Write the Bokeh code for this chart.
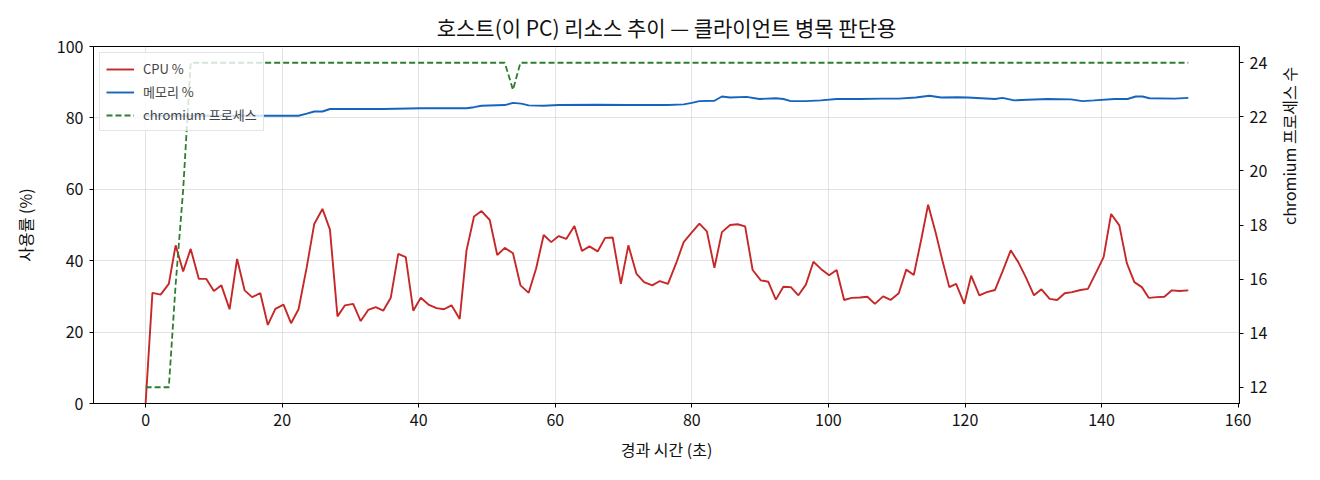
import math
from bokeh.plotting import figure
from bokeh.models import Range1d, LinearAxis
from bokeh.embed import file_html
from bokeh.resources import INLINE

FONT = "Noto Sans CJK KR"

# CPU 사용률 (%) - 경과 시간 (초)
cpu_t = [0.0, 1.0, 2.2, 3.4, 4.4, 5.5, 6.6, 7.8, 8.9, 10.0, 11.1, 12.3, 13.4, 14.5,
         15.6, 16.8, 17.9, 19.0, 20.2, 21.3, 22.4, 23.6, 24.7, 25.9, 27.0, 28.1,
         29.2, 30.4, 31.5, 32.6, 33.7, 34.8, 35.9, 37.0, 38.1, 39.2, 40.3, 41.5,
         42.6, 43.7, 44.8, 46.0, 47.0, 48.1, 49.2, 50.4, 51.5, 52.6, 53.8, 54.9,
         56.1, 57.2, 58.3, 59.4, 60.5, 61.6, 62.8, 63.9, 65.0, 66.2, 67.3, 68.4,
         69.6, 70.7, 71.9, 73.0, 74.2, 75.3, 76.5, 77.7, 78.8, 79.9, 81.1, 82.2,
         83.3, 84.4, 85.6, 86.7, 87.8, 88.9, 90.1, 91.2, 92.3, 93.4, 94.5, 95.6,
         96.7, 97.8, 98.9, 100.1, 101.2, 102.3, 103.4, 104.6, 105.7, 106.8, 108.0,
         109.1, 110.3, 111.4, 112.5, 113.6, 114.6, 115.7, 116.7, 117.7, 118.7,
         119.9, 120.9, 122.1, 123.2, 124.4, 125.5, 126.7, 127.8, 128.9, 130.1,
         131.2, 132.4, 133.5, 134.6, 135.7, 136.9, 138.0, 139.1, 140.3, 141.4,
         142.6, 143.7, 144.8, 145.9, 146.9, 148.1, 149.2, 150.3, 151.4, 152.7]
cpu_pct = [0.0, 31.0, 30.5, 33.5, 44.3, 37.0, 43.3, 34.9, 34.9, 31.5, 33.1, 26.4, 40.5, 31.7,
           29.8, 30.9, 22.0, 26.5, 27.7, 22.5, 26.4, 38.2, 50.3, 54.5, 48.7, 24.4,
           27.5, 27.9, 23.1, 26.2, 27.0, 26.0, 29.6, 41.9, 41.0, 26.0, 29.6, 27.6,
           26.7, 26.4, 27.5, 23.7, 42.9, 52.4, 53.9, 51.4, 41.6, 43.6, 42.1, 33.1,
           31.0, 37.9, 47.2, 45.2, 46.9, 46.1, 49.7, 42.7, 44.0, 42.6, 46.4, 46.5,
           33.5, 44.3, 36.3, 34.0, 33.1, 34.3, 33.5, 39.3, 45.2, 47.7, 50.4, 48.2,
           38.0, 48.0, 50.0, 50.2, 49.6, 37.4, 34.5, 34.1, 29.1, 32.7, 32.6, 30.3,
           33.3, 39.7, 37.7, 35.9, 37.4, 29.0, 29.6, 29.7, 29.9, 27.9, 30.0,
           29.0, 30.9, 37.5, 36.0, 46.0, 55.7, 47.9, 40.0, 32.6, 33.5,
           27.9, 35.8, 30.3, 31.2, 31.8, 37.0, 42.9, 39.6, 35.4, 30.3,
           32.0, 29.3, 29.0, 30.9, 31.2, 31.8, 32.1, 36.3, 41.0, 53.1,
           49.9, 39.3, 34.0, 32.6, 29.6, 29.8, 29.9, 31.7, 31.5, 31.7]

# 메모리 사용률 (%)
mem_t = [0.0, 22.4, 23.6, 24.7, 25.9, 27.0, 34.8, 40.3, 47.0, 48.1, 49.2, 52.6, 53.8,
         55.0, 56.1, 58.3, 60.5, 66.2, 70.7, 76.5, 78.8, 80.0, 81.1, 83.3, 84.4,
         85.6, 88.0, 89.9, 92.3, 93.4, 94.5, 96.7, 98.9, 101.2, 104.6, 107.9, 110.3,
         112.8, 114.8, 116.5, 118.9, 120.4, 124.4, 125.5, 127.2, 129.2, 132.1, 135.5,
         137.2, 138.9, 141.9, 143.8, 145.0, 146.0, 147.0, 150.7, 152.7]
mem_pct = [80.6, 80.6, 81.2, 81.8, 81.8, 82.5, 82.5, 82.7, 82.7, 83.0, 83.4, 83.6, 84.2,
           84.0, 83.5, 83.4, 83.6, 83.7, 83.6, 83.6, 83.8, 84.2, 84.7, 84.8, 86.0,
           85.7, 85.9, 85.3, 85.5, 85.3, 84.7, 84.7, 84.9, 85.3, 85.3, 85.4, 85.4,
           85.7, 86.2, 85.7, 85.8, 85.7, 85.3, 85.6, 84.9, 85.1, 85.3, 85.2,
           84.7, 84.9, 85.3, 85.3, 86.0, 86.0, 85.5, 85.4, 85.6]

# chromium 프로세스 수
proc_t = [0.0, 3.4, 4.4, 5.5, 6.6, 52.6, 53.8, 54.9, 152.7]
proc_count = [12, 12, 15.8, 19.3, 24, 24, 23, 24, 24]

x_ticks = [0, 20, 40, 60, 80, 100, 120, 140, 160]
y_ticks = [0, 20, 40, 60, 80, 100]
proc_ticks = [12, 14, 16, 18, 20, 22, 24]

p = figure(width=1320, height=480, output_backend="svg", toolbar_location=None,
           x_range=Range1d(-7.63, 160.2), y_range=Range1d(0, 100),
           title="호스트(이 PC) 리소스 추이 — 클라이언트 병목 판단용",
           x_axis_label="경과 시간 (초)", y_axis_label="사용률 (%)",
           min_border_left=93, min_border_right=81, min_border_top=46, min_border_bottom=77)
p.extra_y_ranges = {"proc": Range1d(11.4, 24.6)}
right = LinearAxis(y_range_name="proc", axis_label="chromium 프로세스 수")
right.axis_label_orientation = math.pi / 2
p.add_layout(right, "right")

p.xaxis.ticker = x_ticks
p.yaxis[0].ticker = y_ticks
right.ticker = proc_ticks

for ax in [p.xaxis[0], p.yaxis[0], right]:
    ax.major_label_text_font = FONT
    ax.major_label_text_font_size = "16px"
    ax.major_label_text_color = "#111111"
    ax.major_label_standoff = 6
    ax.axis_label_text_font = FONT
    ax.axis_label_text_font_size = "16px"
    ax.axis_label_text_font_style = "normal"
    ax.axis_label_text_color = "#111111"
    ax.axis_line_color = "black"
    ax.major_tick_line_color = "black"
    ax.major_tick_out = 4
    ax.major_tick_in = 0
    ax.minor_tick_line_color = None

p.xaxis[0].axis_label_standoff = 8
p.yaxis[0].axis_label_standoff = 17
right.axis_label_standoff = 19

p.title.align = "center"
p.title.text_font = FONT
p.title.text_font_size = "21px"
p.title.text_font_style = "normal"
p.title.text_color = "#111111"

p.outline_line_color = "black"
p.outline_line_alpha = 1
p.xgrid.grid_line_color = "#b0b0b0"
p.xgrid.grid_line_alpha = 0.35
p.ygrid.grid_line_color = "#b0b0b0"
p.ygrid.grid_line_alpha = 0.35

p.line(cpu_t, cpu_pct, color="#c62828", line_width=1.9, legend_label="CPU %")
p.line(mem_t, mem_pct, color="#1565c0", line_width=1.9, legend_label="메모리 %")
p.line(proc_t, proc_count, color="#2e7d32", line_width=1.8, line_dash="6 3",
       y_range_name="proc", legend_label="chromium 프로세스")

p.legend.location = "top_left"
p.legend.label_text_font = FONT
p.legend.label_text_font_size = "13px"
p.legend.glyph_width = 28
p.legend.glyph_height = 16
p.legend.label_height = 16
p.legend.label_standoff = 9
p.legend.spacing = 4
p.legend.padding = 6
p.legend.margin = 6
p.legend.border_line_color = "#cccccc"
p.legend.background_fill_alpha = 0.8

open("out.html", "w").write(file_html(p, INLINE))
